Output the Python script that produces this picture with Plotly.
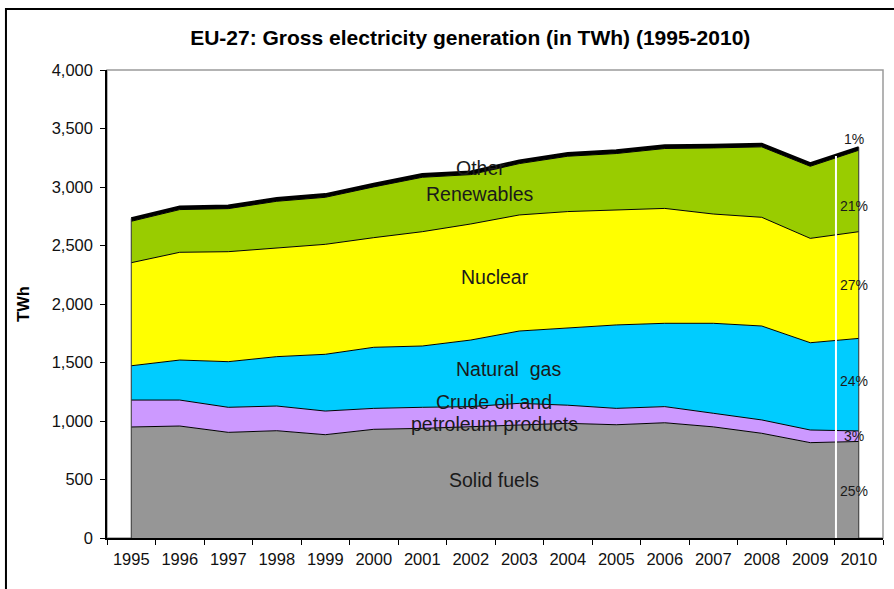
import plotly.graph_objects as go

years = list(range(1995, 2011))
solid_fuels = [949, 957, 903, 917, 883, 929, 937, 951, 970, 980, 968, 985, 950, 895, 815, 825]
crude_oil = [230, 222, 214, 211, 202, 179, 180, 172, 181, 155, 140, 138, 116, 114, 108, 90]
natural_gas = [293, 342, 390, 422, 485, 522, 524, 569, 618, 657, 713, 712, 769, 803, 746, 791]
nuclear = [881, 921, 940, 931, 940, 937, 977, 992, 992, 998, 982, 982, 934, 929, 892, 912]
renewables = [354, 365, 368, 397, 402, 434, 465, 422, 439, 473, 483, 512, 565, 602, 616, 696]
other = [24, 25, 25, 25, 25, 25, 25, 25, 25, 25, 25, 25, 25, 25, 25, 25]

series = [
    ("Solid fuels", solid_fuels, "#969696"),
    ("Crude oil and petroleum products", crude_oil, "#CC99FF"),
    ("Natural gas", natural_gas, "#00CCFF"),
    ("Nuclear", nuclear, "#FFFF00"),
    ("Renewables", renewables, "#99CC00"),
    ("Other", other, "#000000"),
]

area_labels = [
    ("Other", 2002.2, 3165),
    ("Renewables", 2002.2, 2940),
    ("Nuclear", 2002.5, 2231),
    ("Natural  gas", 2002.77, 1444),
    ("Crude oil and", 2002.48, 1162),
    ("petroleum products", 2002.48, 974),
    ("Solid fuels", 2002.48, 496),
]
pct_labels = [("1%", 3410), ("21%", 2838), ("27%", 2162), ("24%", 1342), ("3%", 872), ("25%", 402)]

FONT = "Liberation Sans, Arial, sans-serif"

fig = go.Figure()
for name, vals, col in series:
    lw = 2.5 if name == "Other" else 1
    fig.add_trace(go.Scatter(
        x=years, y=vals, name=name, mode="lines", stackgroup="one",
        line=dict(color="#000000", width=lw), fillcolor=col, hoverinfo="x+y+name"))

totals = [sum(v) for v in zip(*[s[1] for s in series])]

shapes = []
# plot area frame (gray)
shapes.append(dict(type="rect", xref="paper", yref="paper", x0=0, x1=1, y0=0, y1=1,
                   line=dict(color="#9a9a9a", width=1.5), layer="below"))
# outer chart frame
shapes.append(dict(type="rect", xref="paper", yref="paper", x0=-0.1302, x1=1.03, y0=-0.14, y1=1.1303,
                   line=dict(color="#000000", width=2)))
# edge lines of the stacked area
for i in (0, len(years) - 1):
    shapes.append(dict(type="line", xref="x", yref="y", x0=years[i], x1=years[i], y0=0, y1=totals[i],
                       line=dict(color="#333333", width=1)))
# white separator line between 2009 and 2010
xs = 2009.53
frac = xs - years[-2]
ytop = totals[-2] + frac * (totals[-1] - totals[-2])
shapes.append(dict(type="line", xref="x", yref="y", x0=xs, x1=xs, y0=0, y1=ytop - 10,
                   line=dict(color="#ffffff", width=2)))

annotations = []
for txt, x, y in area_labels:
    annotations.append(dict(x=x, y=y, xref="x", yref="y", text=txt, showarrow=False,
                            font=dict(family=FONT, size=19.5, color="#1a1a1a")))
for txt, y in pct_labels:
    annotations.append(dict(x=2009.9, y=y, xref="x", yref="y", text=txt, showarrow=False,
                            font=dict(family=FONT, size=14, color="#1a1a1a")))

fig.update_layout(
    width=894, height=589,
    margin=dict(l=107, r=11, t=70, b=51),
    paper_bgcolor="#ffffff", plot_bgcolor="#ffffff",
    showlegend=False,
    title=dict(text="<b>EU-27: Gross electricity generation (in TWh) (1995-2010)</b>",
               x=0.526, xanchor="center", y=1 - 38 / 589, yanchor="middle",
               font=dict(family=FONT, size=21, color="#000000")),
    shapes=shapes, annotations=annotations,
    font=dict(family=FONT, color="#111111"),
)
fig.update_xaxes(range=[1994.5, 2010.5], tickvals=years, ticktext=[str(y) for y in years],
                 ticks="", showgrid=False, zeroline=False, ticklabelstandoff=5,
                 showline=True, linecolor="#000000", linewidth=1.5,
                 tickfont=dict(family=FONT, size=16.5, color="#111111"),
                 minor=dict(tickvals=[y - 0.5 for y in years] + [years[-1] + 0.5],
                            ticks="outside", ticklen=5, tickcolor="#000000", tickwidth=1, showgrid=False))
fig.update_yaxes(range=[0, 4000], tickvals=list(range(0, 4001, 500)), tickformat=",",
                 ticks="outside", ticklen=5, tickcolor="#000000", showgrid=False, zeroline=False,
                 showline=True, linecolor="#000000", linewidth=1.5, ticklabelstandoff=4,
                 tickfont=dict(family=FONT, size=16.5, color="#111111"),
                 title=dict(text="<b>TWh</b>", font=dict(family=FONT, size=16.5, color="#000000"), standoff=18))

fig.write_html("out.html", config={"displayModeBar": False},
               post_script="document.body.style.margin='0';")
